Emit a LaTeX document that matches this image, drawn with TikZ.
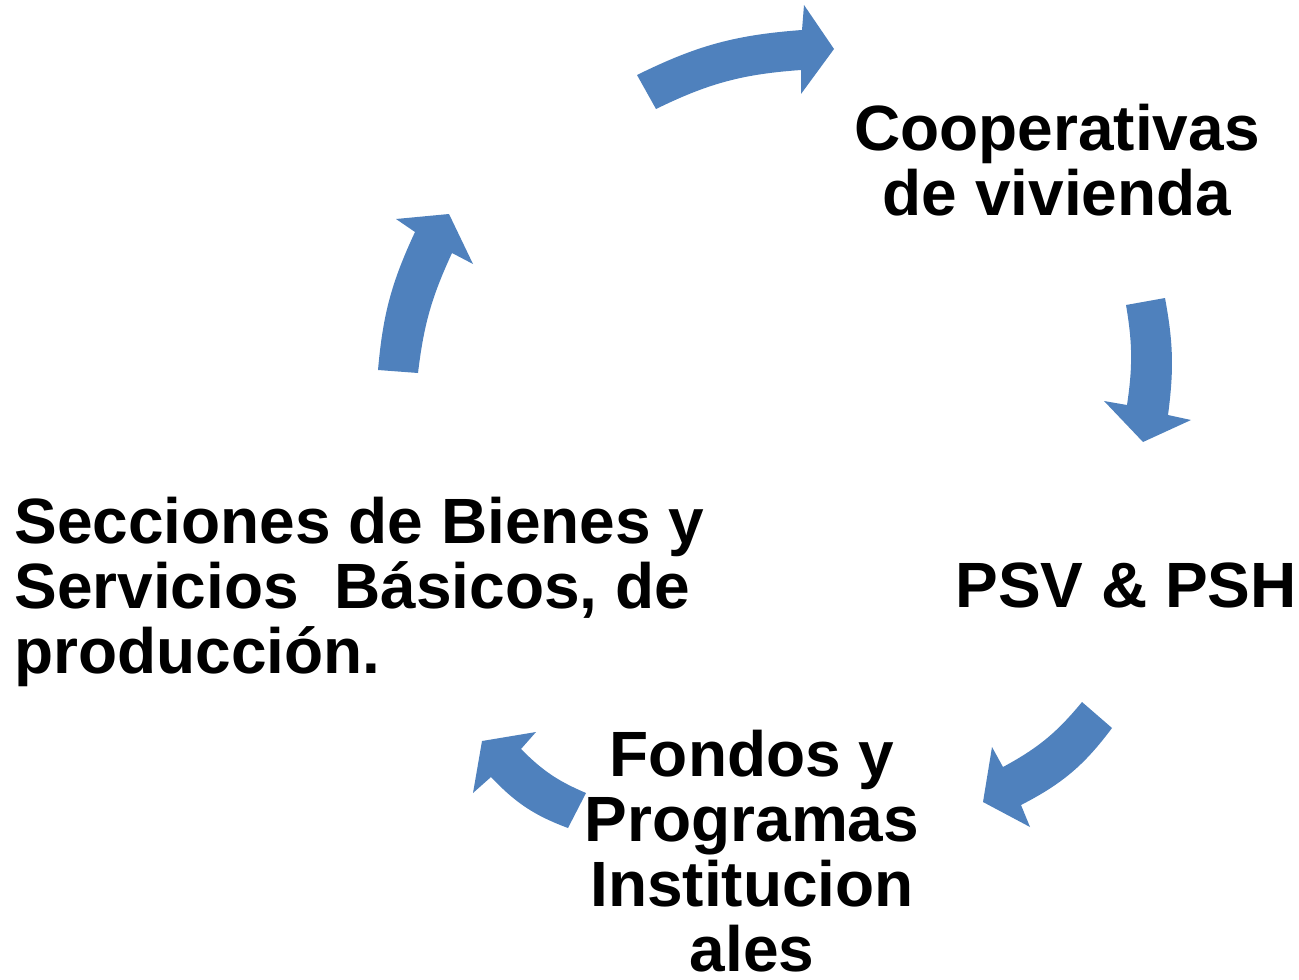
\documentclass[tikz,border=0pt]{standalone}
\usepackage{fontspec}
\setmainfont{Liberation Sans}
\definecolor{arrowblue}{RGB}{79,129,189}

\begin{document}
\begin{tikzpicture}[x=0.5pt,y=-0.5pt] %% cycle of steps
	\tikzstyle{steptext}=[font=\bfseries\fontsize{32}{32.5}\selectfont,inner sep=0pt,text=black];
	\tikzstyle{cyclearrow}=[fill=arrowblue,draw=none];
	\useasboundingbox (0,0) rectangle (1299,979);
	\node[steptext,align=center,anchor=base] (coop) at (1057,215) {Cooperativas\\de vivienda};
	\node[steptext,anchor=base west] (psv) at (955,607) {PSV \& PSH};
	\node[steptext,align=center,anchor=base] (fondos) at (752,971) {Fondos y\\Programas\\Institucion\\ales};
	\node[steptext,align=left,anchor=base west] (secc) at (14,673) {Secciones de Bienes y\\Servicios~ Básicos, de\\producción.};
	\fill[cyclearrow] (656,109) to[bend left=11] (801,70) -- (801,94) -- (834,49) -- (804,5) -- (802,30) to[bend right=11] (637,75) -- cycle;
	\fill[cyclearrow] (1126,305) to[bend left=9] (1127,405) -- (1104,401) -- (1143,442) -- (1191,420) -- (1168,415) to[bend right=9] (1165,298) -- cycle;
	\fill[cyclearrow] (1082,702) to[bend left=11] (1003,767) -- (992,747) -- (983,802) -- (1030,827) -- (1021,805) to[bend right=13] (1112,728) -- cycle;
	\fill[cyclearrow] (586,793) to[bend left=11] (521,749) -- (536,732) -- (482,741) -- (473,793) -- (491,777) to[bend right=13] (568,828) -- cycle;
	\fill[cyclearrow] (418,373) to[bend left=9] (452,253) -- (473,264) -- (449,214) -- (396,219) -- (415,232) to[bend right=10] (378,370) -- cycle;
\end{tikzpicture}
\end{document}
